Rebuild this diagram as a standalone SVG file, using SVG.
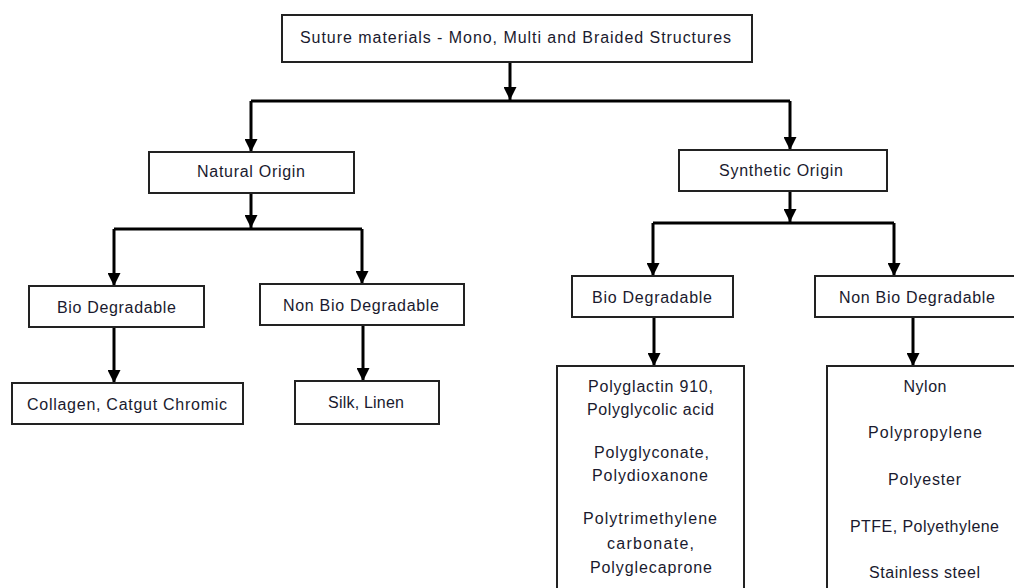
<svg xmlns="http://www.w3.org/2000/svg" width="1014" height="588" viewBox="0 0 1014 588">
<style>
.box{fill:#fff;stroke:#222;stroke-width:2}
.t{font-family:"Liberation Sans",Arial,sans-serif;font-size:16px;fill:#1a1a2e;text-anchor:middle}
.c{fill:none;stroke:#000;stroke-width:3}
</style>
<defs>
<marker id="ah" markerUnits="userSpaceOnUse" markerWidth="14" markerHeight="14" viewBox="0 0 14 14" refX="7" refY="14" orient="auto-start-reverse">
<path d="M0,0 L14,0 L7,14 Z" fill="#000"/>
</marker>
<marker id="arr" markerUnits="userSpaceOnUse" markerWidth="14" markerHeight="13" viewBox="0 0 14 13" refX="13" refY="7" orient="auto">
<path d="M0,0.5 L13,7 L0,13.5 Z" fill="#000"/>
</marker>
</defs>
<rect width="1014" height="588" fill="#fff"/>
<g id="connectors">
<path class="c" d="M510,62 V100" marker-end="url(#arr)"/>
<path class="c" d="M251,101 H790"/>
<path class="c" d="M251,101 V152" marker-end="url(#arr)"/>
<path class="c" d="M790,101 V150" marker-end="url(#arr)"/>
<path class="c" d="M251,193 V228" marker-end="url(#arr)"/>
<path class="c" d="M114,229 H362"/>
<path class="c" d="M114,229 V286" marker-end="url(#arr)"/>
<path class="c" d="M362,229 V284" marker-end="url(#arr)"/>
<path class="c" d="M114,327 V383" marker-end="url(#arr)"/>
<path class="c" d="M363,325 V381" marker-end="url(#arr)"/>
<path class="c" d="M790,191 V222" marker-end="url(#arr)"/>
<path class="c" d="M653,223 H894"/>
<path class="c" d="M653,223 V276" marker-end="url(#arr)"/>
<path class="c" d="M894,223 V276" marker-end="url(#arr)"/>
<path class="c" d="M654,317 V366" marker-end="url(#arr)"/>
<path class="c" d="M913,317 V366" marker-end="url(#arr)"/>
</g>
<g id="root">
<rect class="box" x="282" y="15" width="470" height="47"/>
<text class="t" x="515.5" y="43" textLength="431" lengthAdjust="spacing">Suture materials - Mono, Multi and Braided Structures</text>
</g>
<g id="natural">
<rect class="box" x="149" y="152" width="205" height="41"/>
<text class="t" x="251" y="177" textLength="108" lengthAdjust="spacing">Natural Origin</text>
</g>
<g id="synthetic">
<rect class="box" x="679" y="150" width="208" height="41"/>
<text class="t" x="781" y="176" textLength="124" lengthAdjust="spacing">Synthetic Origin</text>
</g>
<g id="nat-bio">
<rect class="box" x="29" y="286" width="175" height="41"/>
<text class="t" x="116.5" y="313" textLength="119" lengthAdjust="spacing">Bio Degradable</text>
</g>
<g id="nat-nonbio">
<rect class="box" x="260" y="284" width="204" height="41"/>
<text class="t" x="361" y="311" textLength="156" lengthAdjust="spacing">Non Bio Degradable</text>
</g>
<g id="nat-bio-items">
<rect class="box" x="12" y="383" width="231" height="41"/>
<text class="t" x="127" y="410" textLength="200" lengthAdjust="spacing">Collagen, Catgut Chromic</text>
</g>
<g id="nat-nonbio-items">
<rect class="box" x="295" y="381" width="144" height="43"/>
<text class="t" x="366" y="408" textLength="76" lengthAdjust="spacing">Silk, Linen</text>
</g>
<g id="syn-bio">
<rect class="box" x="572" y="276" width="161" height="41"/>
<text class="t" x="652" y="303" textLength="120" lengthAdjust="spacing">Bio Degradable</text>
</g>
<g id="syn-nonbio">
<rect class="box" x="815" y="276" width="210" height="41"/>
<text class="t" x="917" y="303" textLength="156" lengthAdjust="spacing">Non Bio Degradable</text>
</g>
<g id="syn-bio-items">
<rect class="box" x="557" y="366" width="187" height="240"/>
<text class="t" x="650.5" y="392" textLength="125" lengthAdjust="spacing">Polyglactin 910,</text>
<text class="t" x="650.5" y="415" textLength="127" lengthAdjust="spacing">Polyglycolic acid</text>
<text class="t" x="651.5" y="458" textLength="115" lengthAdjust="spacing">Polyglyconate,</text>
<text class="t" x="650" y="481" textLength="116" lengthAdjust="spacing">Polydioxanone</text>
<text class="t" x="650" y="524" textLength="134" lengthAdjust="spacing">Polytrimethylene</text>
<text class="t" x="650.5" y="549" textLength="87" lengthAdjust="spacing">carbonate,</text>
<text class="t" x="651" y="573" textLength="122" lengthAdjust="spacing">Polyglecaprone</text>
</g>
<g id="syn-nonbio-items">
<rect class="box" x="827" y="366" width="200" height="240"/>
<text class="t" x="925" y="392" textLength="43" lengthAdjust="spacing">Nylon</text>
<text class="t" x="925" y="438" textLength="114" lengthAdjust="spacing">Polypropylene</text>
<text class="t" x="924.5" y="485" textLength="73" lengthAdjust="spacing">Polyester</text>
<text class="t" x="924.5" y="532" textLength="149" lengthAdjust="spacing">PTFE, Polyethylene</text>
<text class="t" x="924.5" y="578" textLength="111" lengthAdjust="spacing">Stainless steel</text>
</g>
</svg>
